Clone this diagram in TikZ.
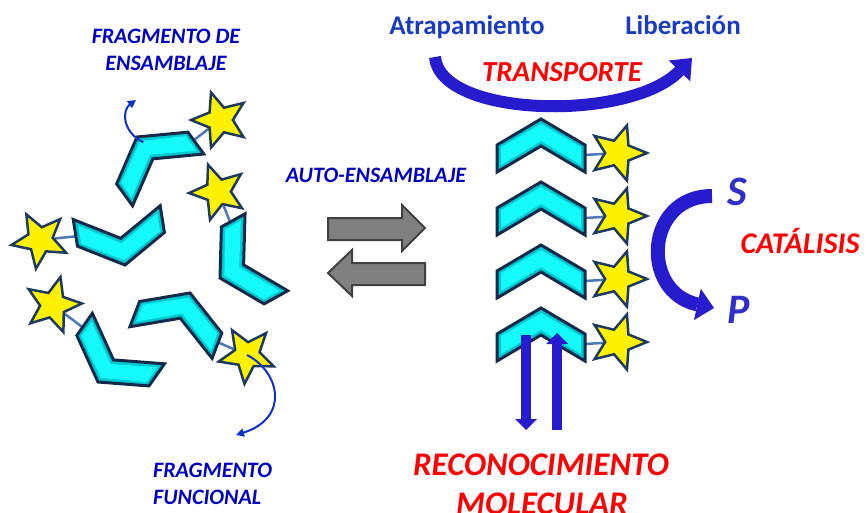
\documentclass[tikz,border=0pt]{standalone}
\usepackage{fontspec}
\setmainfont{Carlito}
\usepackage{tikz}
\usepackage{xcolor}
\usetikzlibrary{shapes.geometric,arrows.meta,backgrounds}

\definecolor{cyanface}{RGB}{20,250,250}
\definecolor{cyanedge}{RGB}{0,200,210}
\definecolor{navy}{RGB}{20,42,75}
\definecolor{starline}{RGB}{30,58,95}
\definecolor{linkblue}{RGB}{75,120,185}
\definecolor{darkblue}{RGB}{0,0,192}
\definecolor{midblue}{RGB}{25,60,195}
\definecolor{arrblue}{RGB}{38,28,205}
\definecolor{spblue}{RGB}{48,48,200}
\definecolor{eqgray}{RGB}{128,128,128}
\definecolor{eqline}{RGB}{64,64,64}

% one building block: apex at the origin, arms hanging down
\tikzset{
  chevron/.pic={
    \fill[cyanedge] (0,0) -- (44,26) -- (44,53) -- (0,27) -- (-44,53) -- (-44,26) -- cycle;
    \fill[cyanface] (0,5) -- (40,28) -- (40,46) -- (0,22) -- (-40,46) -- (-40,28) -- cycle;
    \draw[navy,line width=3pt,line join=miter] (0,0) -- (44,26) -- (44,53) -- (0,27) -- (-44,53) -- (-44,26) -- cycle;
    \coordinate (-tip) at (44,36);
    \coordinate (-top) at (2,8);
  },
}

\begin{document}
\begin{tikzpicture}[x=1pt,y=-1pt,
  link/.style={linkblue,line width=2.5pt},
  fivestar/.style={star,star points=5,star point ratio=2.25,minimum size=58pt,inner sep=0pt,
    fill=yellow,draw=starline,line width=2.5pt},
  lbl/.style={font=\fontsize{22}{27}\selectfont\bfseries\itshape,text=darkblue,inner sep=0pt},
  endlbl/.style={font=\fontsize{27}{32}\selectfont\bfseries,text=midblue,inner sep=0pt,anchor=base},
  redlbl/.style={font=\fontsize{30}{36}\selectfont\bfseries\itshape,text=red,inner sep=0pt,anchor=base},
  splbl/.style={font=\fontsize{42}{48}\selectfont\bfseries\itshape,text=spblue,inner sep=0pt,anchor=base},
  fragarrow/.style={draw={rgb,255:red,10;green,50;blue,200},line width=2pt,
    -{Triangle[length=8pt,width=8pt]}},
  bigarrow/.style={draw=arrblue,line width=12pt,-{Triangle[length=18pt,width=30pt,line width=0pt]}},
  vertarrow/.style={draw=arrblue,line width=10pt,-{Triangle[length=11pt,width=22pt,line width=0pt]}},
  eqarrow/.style={fill=eqgray,draw=eqline,line width=2pt,line join=miter}]
\useasboundingbox (0,0) rectangle (867,513);

% loose blocks
\pic[rotate=36]  (c1) at (137,137) {chevron};
\pic[rotate=189] (c2) at (125,265) {chevron};
\pic[rotate=119] (c3) at (220,278) {chevron};
\pic[rotate=-21] (c4) at (190,293) {chevron};
\pic[rotate=145] (c5) at (98,382)  {chevron};

\node[fivestar,rotate=90]  (s1) at (220,120) {};
\node[fivestar,rotate=92]  (s2) at (218,192) {};
\node[fivestar,rotate=100] (s3) at (40,240)  {};
\node[fivestar,rotate=-15] (s4) at (53,305)  {};
\node[fivestar,rotate=175] (s5) at (247,355) {};

\begin{scope}[on background layer]
  \draw[link] (c1-tip) -- (s1);
  \draw[link] (c3-tip) -- (s2);
  \draw[link] (c2-tip) -- (s3);
  \draw[link] (c5-tip) -- (s4);
  \draw[link] (c4-tip) -- (s5);
\end{scope}

% stacked assembly
\foreach \i/\y in {1/119,2/182,3/245,4/308} {
  \pic (k\i) at (541,\y) {chevron};
  \node[fivestar,rotate=-90] (t\i) at (618,\y+34) {};
  \begin{scope}[on background layer]
    \draw[link] (k\i-tip) -- (t\i);
  \end{scope}
}

% labels
\node[lbl,align=center] (fens) at (166,50) {FRAGMENTO DE\\ENSAMBLAJE};
\node[lbl,align=left,anchor=west] (ffun) at (153,484) {FRAGMENTO\\FUNCIONAL};
\node[lbl] (auto) at (376,175) {AUTO-ENSAMBLAJE};

\node[endlbl] (atr) at (467,35) {Atrapamiento};
\node[endlbl] (lib) at (683,35) {Liberación};
\node[redlbl,font=\fontsize{29}{35}\selectfont\bfseries\itshape] (trans) at (562,82) {TRANSPORTE};
\node[redlbl] (cat) at (800,253) {CATÁLISIS};
\node[splbl] (S) at (737,205) {S};
\node[splbl] (P) at (739,323) {P};
\node[redlbl,font=\fontsize{33}{39}\selectfont\bfseries\itshape] (rec) at (541,475) {RECONOCIMIENTO};
\node[redlbl,font=\fontsize{33}{39}\selectfont\bfseries\itshape] (mol) at (542,514) {MOLECULAR};

% small pointers to the two kinds of fragment
\coordinate (fe-tip) at (136,100);
\coordinate (fu-tip) at (236,435);
\draw[fragarrow] (c1-top) .. controls (122,132) and (122,110) .. (fe-tip);
\draw[fragarrow] (s5.center) .. controls (280,372) and (290,418) .. (fu-tip);

% equilibrium arrows
\draw[eqarrow] (328,218) -- (402,218) -- (402,205) -- (425,228) -- (402,251) -- (402,240) -- (328,240) -- cycle;
\draw[eqarrow] (425,263) -- (352,263) -- (352,250) -- (328,273) -- (352,296) -- (352,285) -- (425,285) -- cycle;

% function arrows
\coordinate (tr-a) at (435,57);
\coordinate (tr-b) at (692,58);
\draw[bigarrow] (tr-a) .. controls (440,118) and (630,122) .. (tr-b);

\coordinate (cat-a) at (712,196);
\coordinate (cat-b) at (714,308);
\draw[bigarrow,line width=14pt,-{Triangle[length=17pt,width=32pt,line width=0pt]}]
  (cat-a) .. controls (645,196) and (640,292) .. (cat-b);

\coordinate (rec-a) at (526,335);
\coordinate (rec-b) at (526,430);
\coordinate (rec-c) at (557,430);
\coordinate (rec-d) at (557,333);
\draw[vertarrow] (rec-a) -- (rec-b);
\draw[vertarrow] (rec-c) -- (rec-d);
\end{tikzpicture}
\end{document}
